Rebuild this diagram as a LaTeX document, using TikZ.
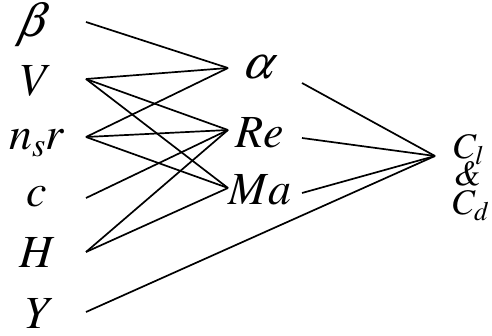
\documentclass[tikz,border=0pt]{standalone}
\usepackage{mathptmx}
\newcommand{\timesit}{\fontencoding{OT1}\fontfamily{ptm}\fontshape{it}\selectfont}
\newcommand{\slantgr}[1]{\tikz[baseline=(sg.base)]\node[inner sep=0pt, xslant=0.25, transform shape] (sg) {#1};}
\begin{document}
\begin{tikzpicture}[x=1pt,y=-1pt,
  lbl/.style={font=\fontsize{46}{46}\selectfont, anchor=base, inner sep=0pt},
  rlbl/.style={font=\fontsize{36}{36}\selectfont, anchor=base, inner sep=0pt},
  link/.style={line width=1.7pt}]
\useasboundingbox (0,0) rectangle (492,336);
% left labels
\node[lbl] (beta) at (35,37) {\slantgr{$\beta$}};
\node[lbl] (V) at (37,96) {$V$};
\node[lbl] (nsr) at (37,150) {$n_s r$};
\node[lbl] (c) at (37,207) {$c$};
\node[lbl] (H) at (38,268) {$H$};
\node[lbl] (Y) at (40,328) {$Y$};
% middle labels
\node[lbl] (alpha) at (261,79) {\slantgr{$\alpha$}};
\node[lbl] (Re) at (260,148) {$Re$};
\node[lbl] (Ma) at (260,205) {$Ma$};
% right labels
\node[rlbl] (Cl) at (469,159) {$C_l$};
\node[rlbl] (amp) at (467,186) {\timesit\&};
\node[rlbl] (Cd) at (471,215) {$C_d$};
% connector end points
\coordinate (bO) at (86,22);
\coordinate (vO) at (86,79);
\coordinate (nO) at (86,137);
\coordinate (cO) at (86,198);
\coordinate (hO) at (86,252);
\coordinate (yO) at (86,312);
\coordinate (aI) at (228,68);
\coordinate (rI) at (228,130);
\coordinate (mI) at (228,188);
\coordinate (aO) at (302,83);
\coordinate (rO) at (302,138);
\coordinate (mO) at (302,193);
\coordinate (cI) at (435,156);
% connectors
\draw[link] (bO) -- (aI);
\draw[link] (vO) -- (aI);
\draw[link] (vO) -- (rI);
\draw[link] (vO) -- (mI);
\draw[link] (nO) -- (aI);
\draw[link] (nO) -- (rI);
\draw[link] (nO) -- (mI);
\draw[link] (cO) -- (rI);
\draw[link] (hO) -- (rI);
\draw[link] (hO) -- (mI);
\draw[link] (yO) -- (cI);
\draw[link] (aO) -- (cI);
\draw[link] (rO) -- (cI);
\draw[link] (mO) -- (cI);
\end{tikzpicture}
\end{document}
